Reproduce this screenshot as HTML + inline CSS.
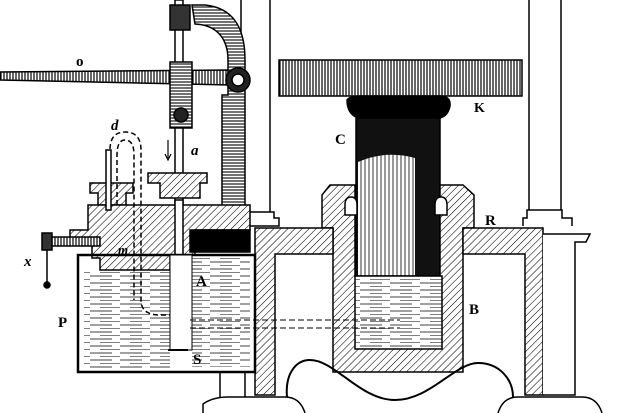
<!DOCTYPE html>
<html><head><meta charset="utf-8"><style>html,body{margin:0;padding:0;background:#fff}svg{display:block}</style></head><body>
<svg width="622" height="413" viewBox="0 0 622 413" xmlns="http://www.w3.org/2000/svg">
<defs>
<pattern id="h" width="5" height="5" patternUnits="userSpaceOnUse" patternTransform="rotate(45)"><rect width="5" height="5" fill="#fff"/><line x1="0" y1="0" x2="0" y2="5" stroke="#000" stroke-width="1.1"/></pattern>
<pattern id="v" width="3" height="3" patternUnits="userSpaceOnUse"><rect width="3" height="3" fill="#fff"/><line x1="1" y1="0" x2="1" y2="3" stroke="#000" stroke-width="1.2"/></pattern>
<pattern id="hz" width="3" height="3" patternUnits="userSpaceOnUse"><rect width="3" height="3" fill="#fff"/><line x1="0" y1="1" x2="3" y2="1" stroke="#000" stroke-width="1.1"/></pattern>
<pattern id="w" width="30" height="7" patternUnits="userSpaceOnUse"><rect width="30" height="7" fill="#fff"/><line x1="0" y1="3" x2="22" y2="3" stroke="#000" stroke-width="0.8"/><line x1="10" y1="6.5" x2="30" y2="6.5" stroke="#000" stroke-width="0.6"/></pattern>
<pattern id="ram" width="4" height="4" patternUnits="userSpaceOnUse"><rect width="4" height="4" fill="#fff"/><line x1="1" y1="0" x2="1" y2="4" stroke="#333" stroke-width="1"/></pattern>
</defs>
<g stroke="#000" stroke-width="1.5" fill="none">
<line x1="241" y1="0" x2="241" y2="212"/><line x1="270" y1="0" x2="270" y2="212"/>
<path d="M236 212 H274 V218 H279 V226 H236" fill="#fff"/>
<line x1="529" y1="0" x2="529" y2="210"/><line x1="561" y1="0" x2="561" y2="210"/>
<path d="M523 226 V218 H527 V210 H562 V218 H572 V226" fill="#fff"/>
<rect x="279" y="60" width="243" height="36" fill="url(#v)"/>
<path d="M347 100 Q350 96 360 96 H440 Q451 96 450 106 Q448 116 440 118 H358 Q347 114 347 100 Z" fill="#000"/>
<rect x="356" y="118" width="84" height="158" fill="#111"/>
<path d="M358 276 V162 Q385 150 415 158 V276 Z" fill="url(#ram)" stroke="none"/>
<path d="M322 195 L330 185 H355 V276 H440 V185 H463 L474 195 V228 H463 V372 H333 V228 H322 Z" fill="url(#h)"/>
<rect x="355" y="276" width="87" height="73" fill="url(#w)"/>
<path d="M345 205 q0 -8 6 -8 q6 0 6 8 v10 h-12 z M435 205 q0 -8 6 -8 q6 0 6 8 v10 h-12 z" fill="#fff"/>
<path d="M255 228 H333 V254 H275 V395 H255 Z" fill="url(#h)"/>
<path d="M463 228 H543 V395 H525 V254 H463 Z" fill="url(#h)"/>
<path d="M543 234 H590 L586 242 H575 V395 H543" fill="#fff"/>
<path d="M287 397 C285 375 295 360 310 360 C335 360 360 400 395 400 C430 400 455 363 478 363 C500 363 513 380 513 397" stroke-width="2"/>
<path d="M203 413 V404 Q213 397 228 397 H285 Q300 397 305 413" fill="#fff"/>
<path d="M498 413 Q503 397 518 397 H582 Q597 397 602 413" fill="#fff"/>
<line x1="220" y1="372" x2="220" y2="397"/><line x1="245" y1="372" x2="245" y2="397"/>
<path d="M0 72 L230 70 V85 L0 80 Z" fill="url(#v)"/>
<path d="M192 5 H205 C235 8 245 30 245 60 V220 H222 V95 H228 V60 C228 40 218 25 195 24 Z" fill="url(#hz)"/>
<circle cx="238" cy="80" r="12" fill="#222"/><circle cx="238" cy="80" r="6" fill="#fff"/>
<rect x="175" y="0" width="8" height="350" fill="#fff"/>
<rect x="170" y="5" width="20" height="25" fill="#333"/>
<rect x="170" y="62" width="22" height="66" fill="url(#hz)"/>
<circle cx="181" cy="115" r="7" fill="#222"/>
<path d="M148 173 H207 V183 H200 V198 H160 V183 H148 Z" fill="url(#h)"/>
<path d="M90 183 H133 V193 H126 V205 H98 V193 H90 Z" fill="url(#h)"/>
<path d="M88 205 H250 V230 H195 V255 H170 V270 H100 V258 H92 V240 H70 V230 H88 Z" fill="url(#h)"/>
<rect x="190" y="230" width="60" height="22" fill="#000"/>
<rect x="175" y="200" width="8" height="150" fill="#fff"/>
<rect x="78" y="255" width="177" height="117" stroke-width="2.5"/>
<rect x="84" y="272" width="86" height="96" fill="url(#w)" stroke="none"/>
<rect x="192" y="257" width="58" height="110" fill="url(#w)" stroke="none"/>
<rect x="170" y="255" width="22" height="95" fill="#fff" stroke-width="1"/>
<line x1="168" y1="350" x2="188" y2="350" stroke-width="2"/>
<rect x="45" y="237" width="55" height="9" fill="url(#v)"/>
<rect x="42" y="233" width="10" height="17" fill="#333"/>
<line x1="47" y1="250" x2="47" y2="283"/><circle cx="47" cy="285" r="3" fill="#000"/>
<path d="M110 205 V150 Q110 132 125 132 Q141 132 141 150 V300 Q141 315 160 315 H170" stroke-dasharray="5 3"/>
<path d="M117 205 V155 Q117 140 125 140 Q134 140 134 155 V300" stroke-dasharray="5 3"/>
<rect x="106" y="150" width="5" height="60" fill="#fff"/>
<path d="M190 320 H400 M190 328 H400" stroke-dasharray="6 3" stroke-width="1"/>
<line x1="168" y1="140" x2="168" y2="158" stroke-width="1.2"/><path d="M165 154 L168 160 L171 154" stroke-width="1.2"/>
</g>
<g font-family="Liberation Serif, serif" font-weight="bold" fill="#000" font-size="15">
<text x="76" y="66">o</text>
<text x="111" y="130" font-style="italic">d</text>
<text x="191" y="155" font-style="italic">a</text>
<text x="118" y="254" font-style="italic" font-size="13">m</text>
<text x="24" y="266" font-style="italic">x</text>
<text x="196" y="286">A</text>
<text x="58" y="327">P</text>
<text x="193" y="364">S</text>
<text x="474" y="112" font-size="14">K</text>
<text x="335" y="144">C</text>
<text x="485" y="225">R</text>
<text x="469" y="314">B</text>
</g>
</svg>
</body></html>
